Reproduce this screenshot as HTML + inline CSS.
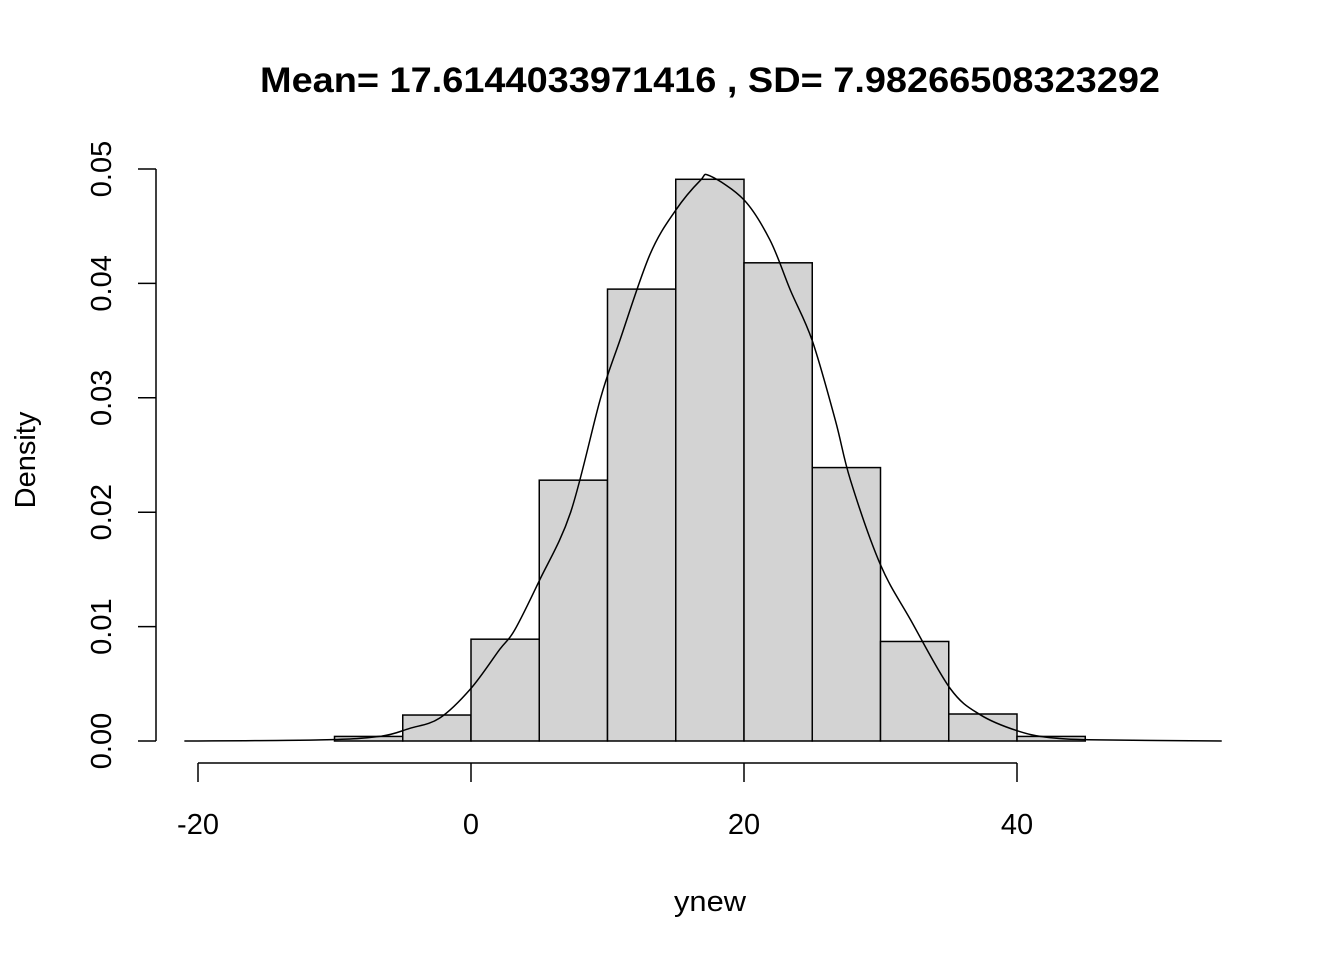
<!DOCTYPE html>
<html><head><meta charset="utf-8"><style>
html,body{margin:0;padding:0;background:#fff;}
svg text{font-family:"Liberation Sans",Arial,sans-serif;fill:#000;}
</style></head><body>
<svg id="chart" width="1344" height="960" xmlns="http://www.w3.org/2000/svg">
<text x="260" y="92" font-size="35" font-weight="bold" textLength="900" lengthAdjust="spacingAndGlyphs">Mean= 17.6144033971416 , SD= 7.98266508323292</text>
<text x="710" y="911" font-size="29" text-anchor="middle" textLength="72" lengthAdjust="spacingAndGlyphs">ynew</text>
<text transform="translate(35,460) rotate(-90)" font-size="29" text-anchor="middle">Density</text>
<g id="bars"></g><g id="xaxis"></g><g id="yaxis"></g><g id="curve"></g>
</svg>
<script>
const binStarts = [-10,-5,0,5,10,15,20,25,30,35,40];
const binWidth = 5;
const densities = [0.0004,0.00227,0.0089,0.0228,0.0395,0.0491,0.0418,0.0239,0.0087,0.00236,0.0004];
const xTicks = [-20,0,20,40];
const yTicks = [0,0.01,0.02,0.03,0.04,0.05];
const yTickLabels = ["0.00","0.01","0.02","0.03","0.04","0.05"];
const curveX = [-21,-11,-6.7,-4.5,-2.3,0,2.1,3.2,5,7.3,9.5,10.9,13.1,15,16.8,17.5,20,21.9,23.4,25,26.7,27.8,30,32.2,35.1,37.3,40,42.4,46,55];
const curveY = [0,0.0001,0.0004,0.0011,0.002,0.0046,0.008,0.0097,0.014,0.020,0.030,0.035,0.0425,0.0464,0.049,0.0494,0.0473,0.0438,0.0394,0.035,0.028,0.0228,0.0154,0.0106,0.0046,0.0023,0.0009,0.0003,0.0001,0];

const NS="http://www.w3.org/2000/svg";
const sx = v => 471 + v*13.65;
const sy = v => 741 - v*11440;
function mk(tag, attrs, parent){const e=document.createElementNS(NS,tag);for(const k in attrs)e.setAttribute(k,attrs[k]);parent.appendChild(e);return e;}
const gb=document.getElementById('bars');
binStarts.forEach((b,i)=>{
  const r=mk('rect',{x:sx(b),y:sy(densities[i]),width:sx(b+binWidth)-sx(b),height:sy(0)-sy(densities[i]),fill:'#d3d3d3',stroke:'#000','stroke-width':1.5},gb);
  
  
});
const gx=document.getElementById('xaxis');
const xl=mk('line',{x1:sx(xTicks[0]),x2:sx(xTicks[xTicks.length-1]),y1:763,y2:763,stroke:'#000','stroke-width':1.5},gx);


xTicks.forEach(t=>{
  mk('line',{x1:sx(t),x2:sx(t),y1:763,y2:782,stroke:'#000','stroke-width':1.5},gx);
  const tx=mk('text',{x:sx(t),y:834,'font-size':29,'text-anchor':'middle'},gx);
  tx.textContent=t;
  
  
});
const gy=document.getElementById('yaxis');
const yl=mk('line',{x1:156,x2:156,y1:sy(yTicks[0]),y2:sy(yTicks[yTicks.length-1]),stroke:'#000','stroke-width':1.5},gy);


yTicks.forEach((t,i)=>{
  mk('line',{x1:138,x2:156,y1:sy(t),y2:sy(t),stroke:'#000','stroke-width':1.5},gy);
  const tx=mk('text',{transform:`translate(111,${sy(t)}) rotate(-90)`,'font-size':29,'text-anchor':'middle'},gy);
  tx.textContent=yTickLabels[i];
  
  
});
const gc=document.getElementById('curve');
const pts=curveX.map((x,i)=>[sx(x),sy(curveY[i])]);
let d='M'+pts[0][0]+','+pts[0][1];
for(let i=0;i<pts.length-1;i++){
  const p0=pts[Math.max(0,i-1)],p1=pts[i],p2=pts[i+1],p3=pts[Math.min(pts.length-1,i+2)];
  const c1=[p1[0]+(p2[0]-p0[0])/6,p1[1]+(p2[1]-p0[1])/6];
  const c2=[p2[0]-(p3[0]-p1[0])/6,p2[1]-(p3[1]-p1[1])/6];
  d+=` C${c1[0]},${c1[1]} ${c2[0]},${c2[1]} ${p2[0]},${p2[1]}`;
}
const p=mk('path',{d:d,fill:'none',stroke:'#000','stroke-width':1.5},gc);


</script>
</body></html>
